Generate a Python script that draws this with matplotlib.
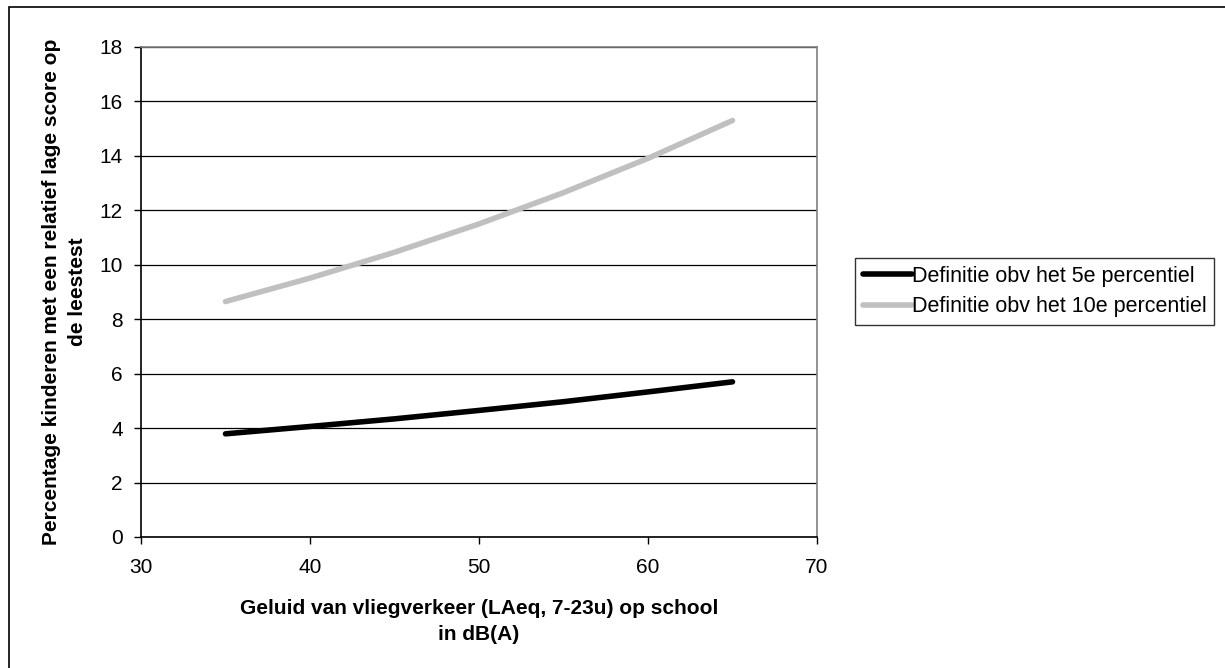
import matplotlib.pyplot as plt
from matplotlib.patches import Rectangle

plt.rcParams['font.family'] = ['Liberation Sans', 'DejaVu Sans']

# geluidsniveau (dB(A)) en percentages
geluid = [35, 40, 45, 50, 55, 60, 65]
p5 = [3.79, 4.06, 4.34, 4.65, 4.97, 5.33, 5.70]
p10 = [8.65, 9.51, 10.46, 11.50, 12.65, 13.91, 15.30]

labels = ["Definitie obv het 5e percentiel", "Definitie obv het 10e percentiel"]
x_ticks = [30, 40, 50, 60, 70]
y_ticks = [0, 2, 4, 6, 8, 10, 12, 14, 16, 18]

fig = plt.figure(figsize=(12.25, 6.68), dpi=100)
ax = fig.add_axes([141 / 1225, 1 - 537 / 668, (817 - 141) / 1225, (537 - 47) / 668])

ax.plot(geluid, p5, color="black", lw=4, solid_capstyle="round", label=labels[0])
ax.plot(geluid, p10, color="#c0c0c0", lw=4, solid_capstyle="round", label=labels[1])

ax.set_xlim(30, 70)
ax.set_ylim(0, 18)
ax.set_xticks(x_ticks)
ax.set_yticks(y_ticks)
ax.tick_params(labelsize=15, direction="out", length=5, width=1, colors="black")
ax.tick_params(axis="x", pad=10)
ax.tick_params(axis="y", pad=8)
ax.grid(axis="y", color="black", lw=0.9)
ax.set_axisbelow(True)

for s in ["top", "right"]:
    ax.spines[s].set_color("#808080")
    ax.spines[s].set_linewidth(1.2)
for s in ["left", "bottom"]:
    ax.spines[s].set_color("black")
    ax.spines[s].set_linewidth(1.2)

ax.set_xlabel("Geluid van vliegverkeer (LAeq, 7-23u) op school\nin dB(A)",
              fontsize=15, fontweight="bold", labelpad=16, linespacing=1.45)
ax.set_ylabel("Percentage kinderen met een relatief lage score op\nde leestest",
              fontsize=15, fontweight="bold", labelpad=9, linespacing=1.45)

leg = ax.legend(loc="upper left", bbox_to_anchor=(855 / 1225, 1 - 258 / 668),
                bbox_transform=fig.transFigure, fontsize=15.5, frameon=True,
                fancybox=False, handlelength=2.3, handletextpad=0.0,
                borderpad=0.35, labelspacing=0.45, borderaxespad=0)
leg.get_frame().set_edgecolor("black")
leg.get_frame().set_linewidth(1.0)

# buitenrand van het diagram
fig.patches.append(Rectangle((9 / 1225, -0.02), 1.05, 1 - 7 / 668 + 0.02,
                             transform=fig.transFigure, fill=False,
                             edgecolor="black", lw=1.2))

fig.savefig("out.png", dpi=100)
